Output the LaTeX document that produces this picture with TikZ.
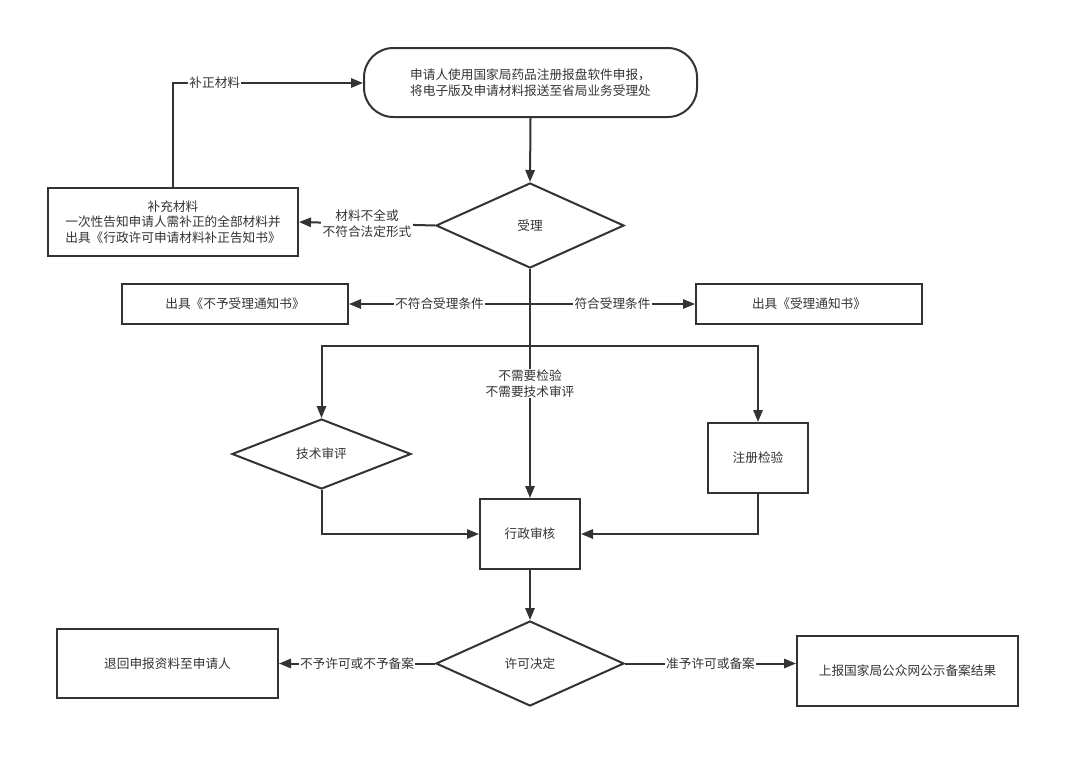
\documentclass[tikz,border=0pt]{standalone}
\usepackage{fontspec}
\setmainfont{Noto Sans CJK SC}
\usetikzlibrary{shapes.geometric,arrows.meta}
\definecolor{ink}{HTML}{333333}
\begin{document}
\begin{tikzpicture}[x=0.75pt,y=-0.75pt,
  every node/.style={font=\fontsize{9.5pt}{11.5pt}\selectfont, text=ink},
  box/.style={draw=ink, line width=1.5pt, rectangle, align=center, inner sep=0pt},
  dia/.style={draw=ink, line width=1.5pt, diamond, align=center, inner sep=0pt},
  conn/.style={draw=ink, line width=1.5pt},
  arr/.style={conn, -{Triangle[length=9pt,width=7pt]}},
  lab/.style={fill=white, inner sep=1pt, align=center}]
\useasboundingbox (0,0) rectangle (1080,768);

\node[box, rounded corners=22pt, minimum width=249.75pt, minimum height=51.75pt] (start) at (530.5,82.5)
  {申请人使用国家局药品注册报盘软件申报，\\将电子版及申请材料报送至省局业务受理处};
\node[dia, minimum width=141pt, minimum height=63.75pt] (shouli) at (530,225.5) {受理};
\node[box, minimum width=187.5pt, minimum height=51pt] (buchong) at (173,222)
  {补充材料\\一次性告知申请人需补正的全部材料并\\出具《行政许可申请材料补正告知书》};
\node[box, minimum width=169.5pt, minimum height=30pt] (buyu) at (235,304) {出具《不予受理通知书》};
\node[box, minimum width=169.5pt, minimum height=30pt] (tongzhi) at (809,304) {出具《受理通知书》};
\node[dia, minimum width=134.25pt, minimum height=52.5pt] (jishu) at (321.5,454) {技术审评};
\node[box, minimum width=75pt, minimum height=52.5pt] (jianyan) at (758,458) {注册检验};
\node[box, minimum width=75pt, minimum height=52.5pt] (shenhe) at (530,534) {行政审核};
\node[dia, minimum width=141pt, minimum height=63.75pt] (xuke) at (530,663.5) {许可决定};
\node[box, minimum width=165.75pt, minimum height=51.75pt] (tuihui) at (167.5,663.5) {退回申报资料至申请人};
\node[box, minimum width=165.75pt, minimum height=52.5pt] (shangbao) at (907.5,671) {上报国家局公众网公示备案结果};

\coordinate (hub) at (530,304);
\coordinate (split) at (530,346);
\coordinate (splitL) at (321.5,346);
\coordinate (splitR) at (758,346);
\coordinate (up) at (173,83);

% main flow
\draw[arr] (start.south) -- (shouli.north);
\draw[arr] (shouli.west) -- node[lab]{材料不全或\\不符合法定形式} (buchong.east);
\draw[arr] (buchong.north) -- (up) -- node[lab, pos=0.22]{补正材料} (start.west |- up);
\draw[arr] (shouli.south) -- node[lab, pos=0.5]{不需要检验\\不需要技术审评} (shenhe.north);
\draw[arr] (hub) -- node[lab]{不符合受理条件} (buyu.east);
\draw[arr] (hub) -- node[lab]{符合受理条件} (tongzhi.west);
\draw[arr] (split) -- (splitL) -- (jishu.north);
\draw[arr] (split) -- (splitR) -- (jianyan.north);
\draw[arr] (jishu.south) |- (shenhe.west);
\draw[arr] (jianyan.south) |- (shenhe.east);
\draw[arr] (shenhe.south) -- (xuke.north);
\draw[arr] (xuke.west) -- node[lab]{不予许可或不予备案} (tuihui.east);
\draw[arr] (xuke.east) -- node[lab]{准予许可或备案} (shangbao.west |- xuke.east);
\end{tikzpicture}
\end{document}
